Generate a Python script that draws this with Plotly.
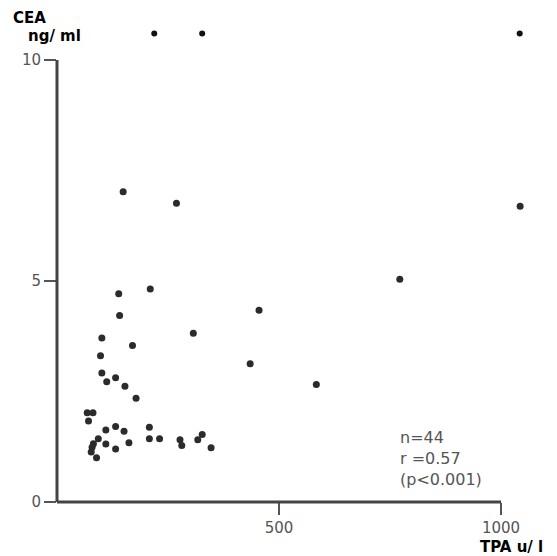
import plotly.graph_objects as go

# TPA (u/l) and CEA (ng/ml) values
tpa = [149, 269, 139, 210, 141, 455, 307, 101, 170, 98, 435, 101, 112, 132, 153,
       584, 178, 68, 81, 71, 110, 132, 151, 208, 93, 82, 79, 77, 89, 110,
       132, 162, 208, 231, 277, 281, 317, 327, 347, 772, 1043]
cea = [7.02, 6.76, 4.71, 4.82, 4.22, 4.34, 3.82, 3.71, 3.54, 3.31, 3.13, 2.92, 2.72, 2.81, 2.62,
       2.66, 2.35, 2.02, 2.02, 1.83, 1.63, 1.71, 1.60, 1.69, 1.43, 1.32, 1.24, 1.13, 1.00, 1.31,
       1.20, 1.34, 1.43, 1.43, 1.41, 1.28, 1.41, 1.53, 1.23, 5.04, 6.69]
# off-scale (>10 ng/ml) points plotted above the axis
tpa_off = [219, 327, 1042]
cea_off = [10.6, 10.6, 10.6]

x_ticks = [500, 1000]
y_ticks = [0, 5, 10]
x_axis_max = 1000
y_axis_max = 10
x_range = [0, 1099]
y_range = [0, 10.77]
stats_lines = ["n=44", "r =0.57", "(p&lt;0.001)"]

fig = go.Figure()
fig.add_trace(go.Scatter(x=tpa, y=cea, mode="markers", cliponaxis=False,
                         marker=dict(size=7, color="#2b2b2b"), showlegend=False))
fig.add_trace(go.Scatter(x=tpa_off, y=cea_off, mode="markers", cliponaxis=False,
                         marker=dict(size=6, color="#111111"), showlegend=False))

tickfont = dict(family="DejaVu Sans, sans-serif", size=15, color="#555555")
fig.update_xaxes(range=x_range, tickvals=x_ticks, ticktext=[str(v) for v in x_ticks],
                 showline=False, ticks="outside", ticklen=12, tickwidth=2,
                 tickcolor="#555555", showgrid=False, zeroline=False, tickfont=tickfont)
fig.update_yaxes(range=y_range, tickvals=y_ticks, ticktext=[str(v) for v in y_ticks],
                 showline=False, ticks="outside", ticklen=12, tickwidth=2,
                 tickcolor="#555555", showgrid=False, zeroline=False, tickfont=tickfont)

# axis lines spanning only the labelled range (paper refs so they are not clipped)
axis_style = dict(color="#444444", width=3)
fig.add_shape(type="line", xref="paper", yref="paper", x0=0, y0=0,
              x1=x_axis_max / x_range[1], y1=0, line=axis_style, layer="above")
fig.add_shape(type="line", xref="paper", yref="paper", x0=0, y0=0,
              x1=0, y1=y_axis_max / y_range[1], line=axis_style, layer="above")

boldfont = dict(family="DejaVu Sans, sans-serif", size=15, color="#000000")
fig.add_annotation(text="<b>CEA</b>", xref="paper", yref="paper", x=0, y=0,
                   xshift=-46, yshift=484, xanchor="left", yanchor="middle",
                   showarrow=False, font=boldfont)
fig.add_annotation(text="<b>ng/ ml</b>", xref="paper", yref="paper", x=0, y=0,
                   xshift=-31, yshift=466, xanchor="left", yanchor="middle",
                   showarrow=False, font=boldfont)
fig.add_annotation(text="<b>TPA u/ l</b>", xref="paper", yref="paper", x=0, y=0,
                   xshift=421, yshift=-45, xanchor="left", yanchor="middle",
                   showarrow=False, font=boldfont)
fig.add_annotation(text="<br>".join(stats_lines), xref="paper", yref="paper", x=0, y=0,
                   xshift=341, yshift=44, xanchor="left", yanchor="middle", align="left",
                   showarrow=False,
                   font=dict(family="DejaVu Sans, sans-serif", size=16, color="#555555"))

fig.update_layout(width=549, height=548, margin=dict(l=49, r=12, t=18, b=54),
                  paper_bgcolor="white", plot_bgcolor="white")
fig.write_html("out.html")
